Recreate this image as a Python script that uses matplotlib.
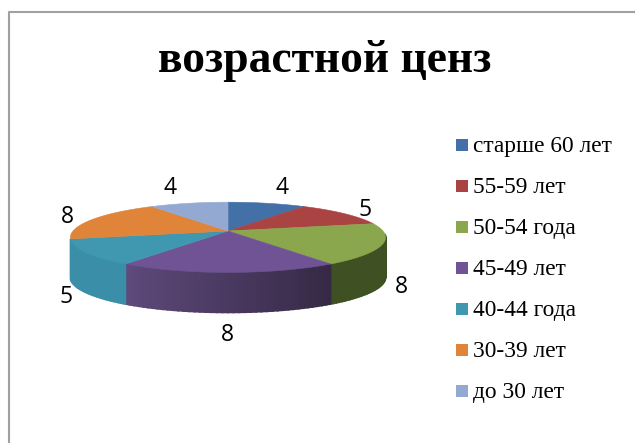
import numpy as np
import matplotlib
matplotlib.use('Agg')
import matplotlib.pyplot as plt
from matplotlib.patches import Polygon, Rectangle

# Data
categories = ['старше 60 лет', '55-59 лет', '50-54 года', '45-49 лет', '40-44 года', '30-39 лет', 'до 30 лет']
values = [4, 5, 8, 8, 5, 8, 4]
top_colors = ['#4470a8', '#a94442', '#8aa74e', '#6f5394', '#3f98b0', '#df8438', '#94a9d2']
side_colors = ['#2f4f78', '#78302f', '#3f5022', '#5f4a7c', '#3a8ea8', '#a8602a', '#6a7a98']
title = 'возрастной ценз'

# Pie geometry in pixels
CX, CY = 228, 231
RX, RY = 155, 34
DEPTH = 40
PERSP = 0.18


def project(angle):
    # angle clockwise from the back of the pie, with a simple perspective
    a = np.radians(angle)
    X, Y = np.sin(a), np.cos(a)
    w = 1 / (1 + PERSP * Y)
    return CX + RX * X * w, CY - RY * Y * w


fig = plt.figure(figsize=(6.35, 4.43), dpi=100)
ax = fig.add_axes([0, 0, 1, 1])
ax.set_xlim(0, 635)
ax.set_ylim(443, 0)
ax.axis('off')

# Frame, only the top and left lines are visible
ax.plot([635, 8.5, 8.5], [11.5, 11.5, 443], color='#a0a0a0', lw=1.5, zorder=1)

ax.text(325, 61, title, family='Liberation Serif', fontsize=32.8, fontweight='bold',
        ha='center', va='center', color='black')

# Slices
edges = np.concatenate([[0], np.cumsum(values)]) / sum(values) * 360

# Side wall, split into narrow strips so that the shading runs along it
for i in range(len(values)):
    start, end = max(edges[i], 95), min(edges[i + 1], 257)
    if end <= start:
        continue
    steps = np.linspace(start, end, 41)
    base = np.array(matplotlib.colors.to_rgb(side_colors[i]))
    for j in range(40):
        x0, y0 = project(steps[j])
        x1, y1 = project(steps[j + 1])
        mid = (steps[j] + steps[j + 1]) / 2
        shade = 1.0
        if i == 3:
            shade = 0.55 + 0.45 * (mid - edges[3]) / (edges[4] - edges[3])
        ax.add_patch(Polygon([(x0, y0), (x1, y1), (x1, y1 + DEPTH), (x0, y0 + DEPTH)],
                             facecolor=base * shade, edgecolor=base * shade, lw=1.2, zorder=2))

# Top face
for i in range(len(values)):
    steps = np.linspace(edges[i], edges[i + 1], 40)
    pts = [project(a) for a in steps]
    ax.add_patch(Polygon([(CX, CY)] + pts, facecolor=top_colors[i], edgecolor=top_colors[i],
                         lw=0.4, zorder=3))

# Value labels
label_x = [282, 365, 401, 227, 66, 67, 170]
label_y = [188, 210, 287, 335, 297, 217, 188]
for v, lx, ly in zip(values, label_x, label_y):
    ax.text(lx, ly, str(v), family='Open Sans', fontsize=16.5, ha='center', va='center',
            color='black', zorder=5)

# Legend
legend_y = [145, 186, 227, 268, 309, 350, 391]
for name, col, ly in zip(categories, top_colors, legend_y):
    ax.add_patch(Rectangle((456, ly - 6), 12, 12, facecolor=col, edgecolor='none', zorder=4))
    ax.text(473, ly + 1.5, name, family='Liberation Serif', fontsize=16.8, ha='left', va='center',
            color='black', zorder=5)

fig.savefig('out.png', dpi=100)
